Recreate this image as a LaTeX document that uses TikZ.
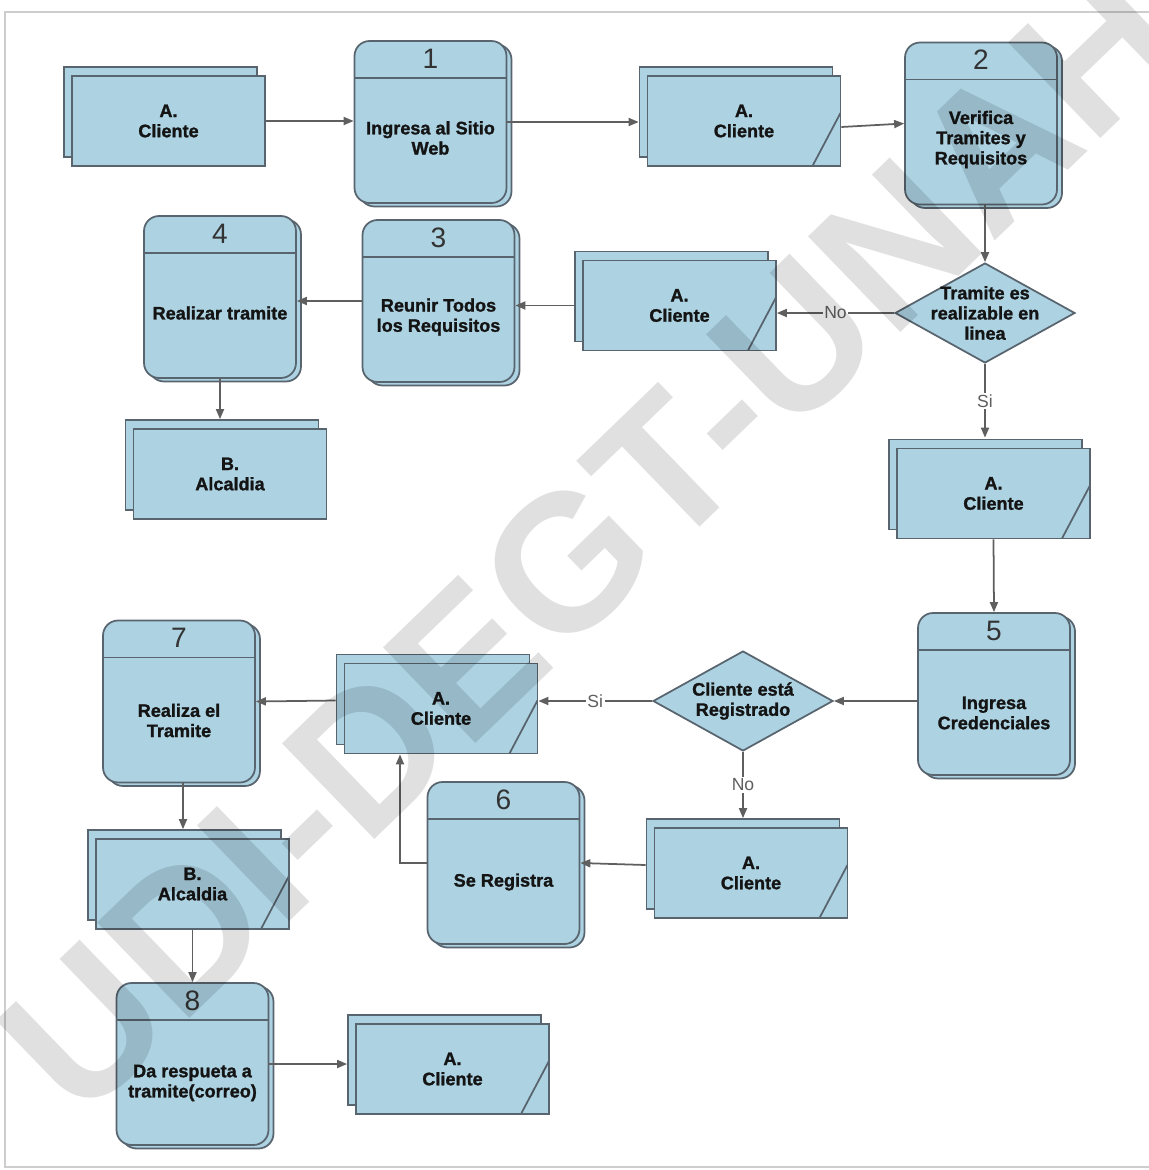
\documentclass[tikz,border=0pt]{standalone}
\usepackage{fontspec}
\setmainfont{Liberation Sans}
\newfontfamily\heavyfont[FakeBold=1.3]{Liberation Sans Bold}
\usepackage{xcolor}
\usepackage{tikz}
\usetikzlibrary{arrows.meta, shapes.geometric, shadows}

\definecolor{boxblue}{RGB}{173,211,227}
\definecolor{boxline}{RGB}{88,100,110}
\definecolor{flowgray}{RGB}{95,95,95}
\definecolor{framegray}{RGB}{205,205,205}

\tikzset{
  boxtext/.style={font=\heavyfont\fontsize{10.3}{11.5}\selectfont, align=center, inner sep=0pt, text=black!92},
  numtext/.style={font=\fontsize{16}{18}\selectfont, inner sep=0pt, text=black!80},
  entity/.style={rectangle, draw=boxline, fill=boxblue, line width=1pt, minimum width=3.86cm, minimum height=1.8cm, boxtext,
    copy shadow={shadow xshift=-0.16cm, shadow yshift=0.18cm}},
  corner/.style={path picture={\draw[boxline, line width=1pt] ([xshift=-0.56cm]path picture bounding box.south east) -- ([yshift=1.06cm]path picture bounding box.south east);}},
  process/.style={rectangle, rounded corners=0.3cm, draw=boxline, fill=boxblue, line width=1pt, minimum width=3.04cm, minimum height=3.24cm, inner sep=0pt,
    copy shadow={shadow xshift=0.1cm, shadow yshift=-0.07cm},
    path picture={\draw[boxline, line width=1pt] ([yshift=-0.74cm]path picture bounding box.north west) -- ([yshift=-0.74cm]path picture bounding box.north east);}},
  decision/.style={diamond, draw=boxline, fill=boxblue, line width=1pt, minimum width=3.6cm, minimum height=2cm, inner sep=0pt},
  flow/.style={draw=flowgray, line width=1pt, -{Triangle[length=0.2cm, width=0.16cm]}},
  flowlabel/.style={font=\fontsize{10}{12}\selectfont, text=flowgray, fill=white, inner sep=1pt}
}

\begin{document}
\begin{tikzpicture}[x=0.02cm, y=-0.02cm]
\useasboundingbox (0,0) rectangle (1149,1170);
\draw[framegray, line width=1.2pt] (1149,12) -- (5,12) -- (5,1167) -- (1149,1167);

% fila de arriba
\node[entity] (e1) at (168.5,121) {A.\\Cliente};
\node[process] (p1) at (430.5,122) {};
\node[entity, corner] (e2) at (744,121) {A.\\Cliente};
\node[process] (p2) at (981,123.5) {};
\node[decision] (d1) at (985,313) {};
\node[entity, corner] (e3) at (679.5,305.5) {A.\\Cliente};
\node[process] (p3) at (438.5,301) {};
\node[process] (p4) at (220,297) {};
\node[entity] (e4) at (230,474) {B.\\Alcaldia};
\node[entity, corner] (e5) at (993.5,493.5) {A.\\Cliente};

% fila de abajo
\node[process] (p5) at (994,694) {};
\node[decision] (d2) at (743,701) {};
\node[entity, corner] (e6) at (441,708.5) {A.\\Cliente};
\node[process] (p7) at (179,701.5) {};
\node[entity, corner] (e7) at (751,873) {A.\\Cliente};
\node[process] (p6) at (503.5,863) {};
\node[entity, corner] (e8) at (192.5,884) {B.\\Alcaldia};
\node[process] (p8) at (192.5,1064) {};
\node[entity, corner] (e9) at (452.5,1069) {A.\\Cliente};

\node[numtext] (n1) at ([yshift=-0.37cm]p1.north) {1};
\node[numtext] (n2) at ([yshift=-0.37cm]p2.north) {2};
\node[numtext] (n3) at ([yshift=-0.37cm]p3.north) {3};
\node[numtext] (n4) at ([yshift=-0.37cm]p4.north) {4};
\node[numtext] (n5) at ([yshift=-0.37cm]p5.north) {5};
\node[numtext] (n6) at ([yshift=-0.37cm]p6.north) {6};
\node[numtext] (n7) at ([yshift=-0.37cm]p7.north) {7};
\node[numtext] (n8) at ([yshift=-0.37cm]p8.north) {8};

\node[boxtext] (t1) at ([yshift=-0.32cm]p1.center) {Ingresa al Sitio\\Web};
\node[boxtext] (t2) at ([yshift=-0.32cm]p2.center) {Verifica\\Tramites y\\Requisitos};
\node[boxtext] (t3) at ([yshift=-0.32cm]p3.center) {Reunir Todos\\los Requisitos};
\node[boxtext] (t4) at ([yshift=-0.32cm]p4.center) {Realizar tramite};
\node[boxtext] (t5) at ([yshift=-0.38cm]p5.center) {Ingresa\\Credenciales};
\node[boxtext] (t6) at ([yshift=-0.38cm]p6.center) {Se Registra};
\node[boxtext] (t7) at ([yshift=-0.38cm]p7.center) {Realiza el\\Tramite};
\node[boxtext] (t8) at ([yshift=-0.38cm]p8.center) {Da respueta a\\tramite(correo)};
\node[boxtext] (q1) at (d1.center) {Tramite es\\realizable en\\linea};
\node[boxtext] (q2) at (d2.center) {Cliente está\\Registrado};

\coordinate (p7o) at ([xshift=0.08cm]p7.south);

\draw[flow] (e1.east) -- (e1.east -| p1.west);
\draw[flow] (p1.east) -- ([xshift=-0.16cm]e2.west |- p1.east);
\draw[flow] ([yshift=-0.12cm]e2.east) -- (p2.west);
\draw[flow] (d1.north |- p2.south) -- (d1.north);
\draw[flow] (d1.west) -- node[flowlabel] (l1) {No} (d1.west -| e3.east);
\draw[flow] ([xshift=-0.16cm]e3.west) -- (p3.east |- e3.west);
\draw[flow] (p3.west) -- (p4.east |- p3.west);
\draw[flow] (p4.south) -- ([yshift=0.18cm]e4.north -| p4.south);
\draw[flow] (d1.south) -- node[flowlabel] (l2) {Si} ([yshift=0.2cm]e5.north -| d1.south);
\draw[flow] (e5.south) -- (p5.north);
\draw[flow] (p5.west |- d2.east) -- (d2.east);
\draw[flow] (d2.west) -- node[flowlabel] (l3) {Si} (d2.west -| e6.east);
\draw[flow] ([shift={(-0.16cm,0.16cm)}]e6.west) -- (p7.east);
\draw[flow] (p7o) -- ([yshift=0.18cm]e8.north -| p7o);
\draw[flow] (e8.south) -- (p8.north);
\draw[flow] (p8.east) -- ([xshift=-0.16cm]e9.west |- p8.east);
\draw[flow] (d2.south) -- node[flowlabel] (l4) {No} ([yshift=0.18cm]e7.north -| d2.south);
\draw[flow] ([shift={(-0.16cm,0.16cm)}]e7.west) -- (p6.east);
\draw[flow] (p6.west) -| ([xshift=-0.82cm]e6.south);

\node[rotate=44, font=\bfseries\fontsize{110}{110}\selectfont, text=black, text opacity=0.12] (wm) at (590,540) {UDI-DEGT-UNAH};
\end{tikzpicture}
\end{document}
